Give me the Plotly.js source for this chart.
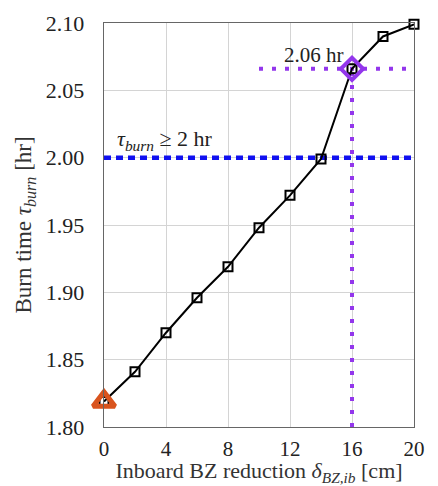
<!DOCTYPE html>
<html>
<head>
<meta charset="utf-8">
<script src="https://cdn.plot.ly/plotly-3.0.1.min.js"></script>
<style>html,body{margin:0;padding:0;background:#fff;}#chart{width:438px;height:486px;}</style>
</head>
<body>
<div id="chart"></div>
<script>
const reduction = [0, 2, 4, 6, 8, 10, 12, 14, 16, 18, 20];
const burnTime = [1.819, 1.841, 1.870, 1.896, 1.919, 1.948, 1.972, 1.999, 2.066, 2.090, 2.099];
const baselineX = [0];
const baselineY = [1.819];
const selectedX = [16];
const selectedY = [2.066];
const requirement = 2.0;
const guideStartX = 10;
const xTicks = [0, 4, 8, 12, 16, 20];
const yTicks = [1.80, 1.85, 1.90, 1.95, 2.00, 2.05, 2.10];

const serif = "Liberation Serif, DejaVu Serif, serif";
const purple = '#9336ec';

const traces = [
  {x: [0, 20], y: [requirement, requirement], mode: 'lines', cliponaxis: false,
   line: {color: '#1010f0', width: 4.5, dash: '7px,5px'}, hoverinfo: 'skip'},
  {x: [guideStartX, 20], y: [selectedY[0], selectedY[0]], mode: 'lines',
   line: {color: purple, width: 4, dash: '4px,9px'}, hoverinfo: 'skip'},
  {x: [selectedX[0], selectedX[0]], y: [1.80, selectedY[0]], mode: 'lines',
   line: {color: purple, width: 4, dash: '4px,9px'}, hoverinfo: 'skip'},
  {x: reduction, y: burnTime, mode: 'lines', line: {color: '#000', width: 2}, cliponaxis: false},
  {x: reduction, y: burnTime, mode: 'markers', cliponaxis: false,
   marker: {symbol: 'square-open', size: 9, color: '#000', line: {width: 2, color: '#000'}}},
  {x: selectedX, y: selectedY, mode: 'markers', cliponaxis: false,
   marker: {symbol: 'diamond-open', size: 17, color: purple, line: {width: 4, color: purple}}},
  {x: baselineX, y: baselineY, mode: 'markers', cliponaxis: false,
   marker: {symbol: 'triangle-up-open', size: 19, color: '#d9541e', line: {width: 5, color: '#d9541e'}}}
];

const layout = {
  width: 438, height: 486,
  margin: {l: 104, r: 24, t: 23, b: 59},
  paper_bgcolor: '#fff', plot_bgcolor: '#fff',
  showlegend: false,
  font: {family: serif, size: 21, color: '#222'},
  xaxis: {
    range: [0, 20], tickvals: xTicks, ticktext: xTicks.map(String),
    showgrid: true, gridcolor: '#d4d4d4', gridwidth: 1,
    zeroline: false, showline: true, linecolor: '#666', linewidth: 1.3, mirror: true,
    ticks: '', ticklen: 0, ticklabelstandoff: 2,
    tickfont: {family: serif, size: 21, color: '#222'},
    title: {text: 'Inboard BZ reduction <i>δ</i><sub><i>BZ,ib</i></sub> [cm]', font: {family: serif, size: 22, color: '#333'}, standoff: 5}
  },
  yaxis: {
    range: [1.80, 2.10], tickvals: yTicks, ticktext: yTicks.map(v => v.toFixed(2)),
    showgrid: true, gridcolor: '#d4d4d4', gridwidth: 1,
    zeroline: false, showline: true, linecolor: '#666', linewidth: 1.3, mirror: true,
    ticks: '', ticklen: 0, ticklabelstandoff: 14,
    tickfont: {family: serif, size: 22, color: '#222'},
    title: {text: 'Burn time <i>τ</i><sub><i>burn</i></sub> [hr]', font: {family: serif, size: 23, color: '#333'}, standoff: 7}
  },
  annotations: [
    {x: 0.7, y: 2.013, xref: 'x', yref: 'y', xanchor: 'left', yanchor: 'middle',
     text: '<i>τ</i><sub><i>burn</i></sub> ≥ 2 hr', showarrow: false,
     font: {family: serif, size: 22, color: '#222'}},
    {x: 15.6, y: 2.076, xref: 'x', yref: 'y', xanchor: 'right', yanchor: 'middle',
     text: '2.06 hr', showarrow: false,
     font: {family: serif, size: 21, color: '#222'}}
  ]
};

Plotly.newPlot('chart', traces, layout, {displayModeBar: false, staticPlot: true});
</script>
</body>
</html>
